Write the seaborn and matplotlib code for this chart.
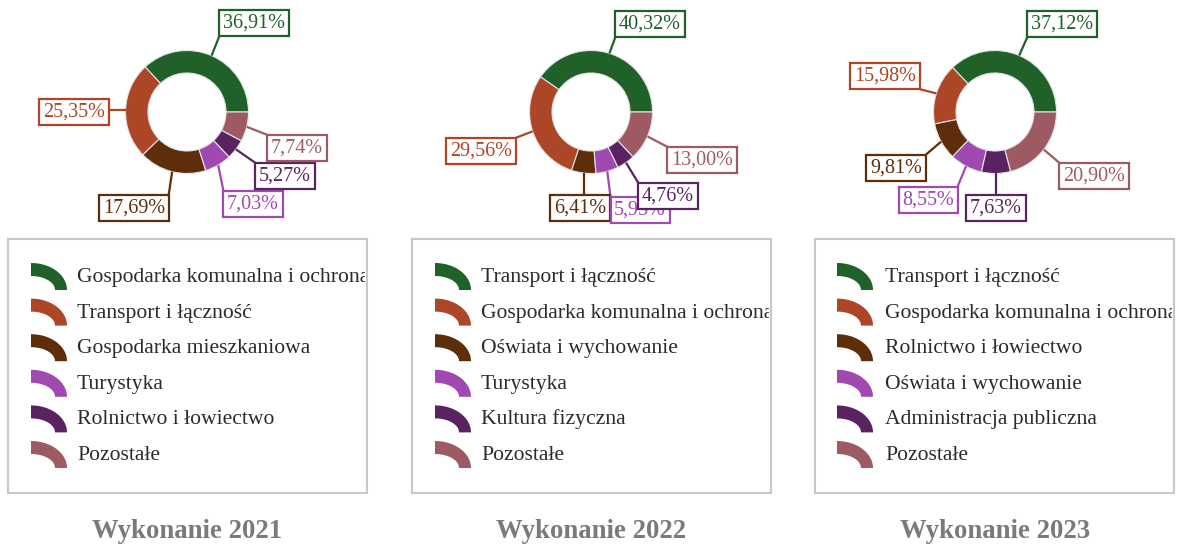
import numpy as np
import matplotlib
matplotlib.use("Agg")
import matplotlib.pyplot as plt
import seaborn as sns
from matplotlib.patches import Rectangle, PathPatch
from matplotlib.path import Path
from matplotlib.transforms import Bbox, TransformedBbox

# ---- data -------------------------------------------------------------
years = ["2021", "2022", "2023"]

categories_2021 = ["Gospodarka komunalna i ochrona środowiska", "Transport i łączność",
                   "Gospodarka mieszkaniowa", "Turystyka", "Rolnictwo i łowiectwo", "Pozostałe"]
shares_2021 = [36.91, 25.35, 17.69, 7.03, 5.27, 7.74]

categories_2022 = ["Transport i łączność", "Gospodarka komunalna i ochrona środowiska",
                   "Oświata i wychowanie", "Turystyka", "Kultura fizyczna", "Pozostałe"]
shares_2022 = [40.32, 29.56, 6.41, 5.95, 4.76, 13.00]

categories_2023 = ["Transport i łączność", "Gospodarka komunalna i ochrona środowiska",
                   "Rolnictwo i łowiectwo", "Oświata i wychowanie", "Administracja publiczna", "Pozostałe"]
shares_2023 = [37.12, 15.98, 9.81, 8.55, 7.63, 20.90]

# ---- style ------------------------------------------------------------
sns.set_theme(style="white")
plt.rcParams["font.family"] = ["Liberation Serif", "DejaVu Serif"]

palette = sns.color_palette(["#1f6129", "#ad4527", "#5e2d0a", "#a049b0", "#5a2260", "#9e5a63"])

W, H = 1178, 547
fig = plt.figure(figsize=(W / 100, H / 100), dpi=100)
ax = fig.add_axes([0, 0, 1, 1])


def Y(y):
    """top-down pixel row -> axis coordinate"""
    return H - y


panels = [
    dict(year=years[0], cats=categories_2021, vals=shares_2021, cx=187, x0=8,
         label_xy=[(254, 23), (74, 112), (134, 208), (253, 204), (285, 176), (297, 148)],
         icon_x=31, text_x=77),
    dict(year=years[1], cats=categories_2022, vals=shares_2022, cx=591, x0=412,
         label_xy=[(650, 24), (481, 151), (580, 208), (640, 210), (668, 196), (702, 160)],
         icon_x=435, text_x=481),
    dict(year=years[2], cats=categories_2023, vals=shares_2023, cx=995, x0=815,
         label_xy=[(1062, 24), (885, 76), (896, 168), (928, 200), (996, 208), (1094, 176)],
         icon_x=837, text_x=885),
]

R_OUT, RING = 61.5, 22.5
CY = 112
label_items = []

for p in panels:
    cx, cy = p["cx"], Y(CY)
    wedges, _ = ax.pie(p["vals"], colors=palette, startangle=0, counterclock=True,
                       radius=R_OUT, center=(cx, cy), frame=True,
                       wedgeprops=dict(width=RING, edgecolor="#e4e4e4", linewidth=0.8))
    for i, (w, v) in enumerate(zip(wedges, p["vals"])):
        mid = np.deg2rad((w.theta1 + w.theta2) / 2)
        anchor = (cx + R_OUT * np.cos(mid), cy + R_OUT * np.sin(mid))
        lx, ly = p["label_xy"][i]
        txt = ax.text(lx, Y(ly), f"{v:.2f}".replace(".", ",") + "%",
                      ha="center", va="center", fontsize=14.5, color=palette[i],
                      zorder=5 + i,
                      bbox=dict(boxstyle="square,pad=0.18", fc="white",
                                ec=palette[i], lw=1.6))
        label_items.append((txt, anchor, palette[i]))

    # legend frame
    ax.add_patch(Rectangle((p["x0"], Y(493)), 359, 254, fill=False,
                           ec="#c8c8c8", lw=1.5, zorder=1))
    clip = TransformedBbox(Bbox([[p["x0"], Y(493)], [p["x0"] + 357, Y(239)]]), ax.transData)
    for i, name in enumerate(p["cats"]):
        base = 290 + 35.6 * i
        ix = p["icon_x"]
        t = np.linspace(np.pi / 2, 0, 30)
        outer = np.column_stack([ix + 36 * np.cos(t), Y(base) + 27 * np.sin(t)])
        inner = np.column_stack([ix + 24 * np.cos(t[::-1]), Y(base) + 14 * np.sin(t[::-1])])
        verts = np.vstack([outer, inner, outer[:1]])
        codes = [Path.MOVETO] + [Path.LINETO] * (len(verts) - 2) + [Path.CLOSEPOLY]
        ax.add_patch(PathPatch(Path(verts, codes), fc=palette[i], ec="none", zorder=2))
        lt = ax.text(p["text_x"], Y(282 + 35.6 * i), name, ha="left", va="baseline",
                     fontsize=15.6, color="#2b2b2b", zorder=2)
        lt.set_clip_on(True)
        lt.set_clip_box(clip)

    ax.text(cx, Y(538), f"Wykonanie {p['year']}", ha="center", va="baseline",
            fontsize=19.3, fontweight="bold", color="#7a7a7a")

ax.set_xlim(0, W)
ax.set_ylim(0, H)
ax.set_aspect("equal")
ax.axis("off")

# leader lines: from each wedge's outer mid-point to the nearest point of its label box
fig.canvas.draw()
renderer = fig.canvas.get_renderer()
inv = ax.transData.inverted()
for txt, (axp, ayp), col in label_items:
    bb = txt.get_bbox_patch().get_window_extent(renderer)
    (x0, y0), (x1, y1) = inv.transform([[bb.x0, bb.y0], [bb.x1, bb.y1]])
    nx = min(max(axp, x0), x1)
    ny = min(max(ayp, y0), y1)
    ax.plot([axp, nx], [ayp, ny], color=col, lw=1.6, zorder=3, solid_capstyle="butt")

fig.savefig("out.png", dpi=100, facecolor="white")
